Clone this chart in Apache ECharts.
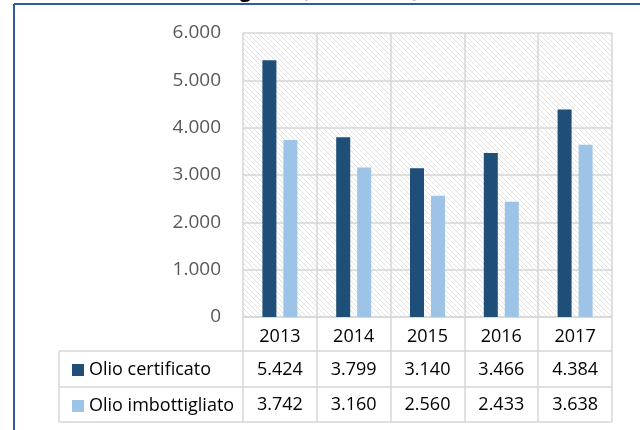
<!DOCTYPE html>
<html>
<head>
<meta charset="utf-8">
<script src="https://cdn.jsdelivr.net/npm/echarts@6/dist/echarts.min.js"></script>
<style>
html,body{margin:0;padding:0;background:#fff;}
#chart{width:640px;height:430px;}
</style>
</head>
<body>
<div id="chart"></div>
<script>
const titleText = 'Olio certificato e imbottigliato (tonnellate)';
const years = ['2013', '2014', '2015', '2016', '2017'];
const seriesNames = ['Olio certificato', 'Olio imbottigliato'];
const certificato = [5424, 3799, 3140, 3466, 4384];
const imbottigliato = [3742, 3160, 2560, 2433, 3638];
const yTicks = [0, 1000, 2000, 3000, 4000, 5000, 6000];

function fmt(v) { return String(v).replace(/\B(?=(\d{3})+(?!\d))/g, '.'); }

// diagonal hatch pattern for the plot background
const pc = document.createElement('canvas');
pc.width = 5; pc.height = 5;
const pctx = pc.getContext('2d');
pctx.fillStyle = '#ffffff';
pctx.fillRect(0, 0, 5, 5);
pctx.strokeStyle = '#e2e2e2';
pctx.lineWidth = 1;
pctx.beginPath();
pctx.moveTo(-1, -1); pctx.lineTo(6, 6);
pctx.moveTo(-6, -1); pctx.lineTo(1, 6);
pctx.moveTo(4, -1); pctx.lineTo(11, 6);
pctx.stroke();

const FONT = 'Open Sans';
const GRID = {left: 243, right: 28, top: 33, bottom: 113};
const lineCol = '#d6d6d6';

const chart = echarts.init(document.getElementById('chart'));
chart.setOption({
  animation: false,
  title: {
    text: titleText, right: 216, top: -24,
    textStyle: {fontFamily: FONT, fontSize: 20, fontWeight: 'bold', color: '#000'}
  },
  legend: {
    data: seriesNames,
    orient: 'vertical',
    left: 67, top: 355,
    itemWidth: 12, itemHeight: 12,
    itemGap: 16,
    icon: 'rect',
    textStyle: {fontFamily: FONT, fontSize: 18, color: '#000', lineHeight: 20}
  },
  grid: Object.assign({show: true, borderWidth: 0, backgroundColor: {image: pc, repeat: 'repeat'}}, GRID),
  xAxis: [
    {
      type: 'category', data: years, gridIndex: 0,
      axisLine: {show: true, lineStyle: {color: lineCol, width: 1.5}},
      axisTick: {show: true, length: 105, lineStyle: {color: lineCol, width: 1.5}},
      splitLine: {show: true, lineStyle: {color: lineCol, width: 1.5}},
      axisLabel: {margin: 11, fontFamily: FONT, fontSize: 18, color: '#000'}
    },
    {
      type: 'category', data: certificato.map(fmt), position: 'bottom', offset: 35,
      axisLine: {show: false}, axisTick: {show: false}, splitLine: {show: false},
      axisLabel: {margin: 9, fontFamily: FONT, fontSize: 18, color: '#000'}
    },
    {
      type: 'category', data: imbottigliato.map(fmt), position: 'bottom', offset: 70,
      axisLine: {show: false}, axisTick: {show: false}, splitLine: {show: false},
      axisLabel: {margin: 9, fontFamily: FONT, fontSize: 18, color: '#000'}
    }
  ],
  yAxis: {
    type: 'value', min: yTicks[0], max: yTicks[yTicks.length - 1], interval: 1000,
    axisLine: {show: false}, axisTick: {show: false},
    splitLine: {show: true, lineStyle: {color: lineCol, width: 1.5}},
    axisLabel: {margin: 22, fontFamily: FONT, fontSize: 19, color: '#595959', formatter: fmt}
  },
  series: [
    {name: seriesNames[0], type: 'bar', data: certificato, barWidth: 14, barGap: '50%',
     itemStyle: {color: '#1F4E79'}},
    {name: seriesNames[1], type: 'bar', data: imbottigliato, barWidth: 14,
     itemStyle: {color: '#9DC3E6'}}
  ],
  graphic: [
    {type: 'line', silent: true, shape: {x1: 59, y1: 351, x2: 612, y2: 351}, style: {stroke: lineCol, lineWidth: 1.5}},
    {type: 'line', silent: true, shape: {x1: 59, y1: 387, x2: 612, y2: 387}, style: {stroke: lineCol, lineWidth: 1.5}},
    {type: 'line', silent: true, shape: {x1: 59, y1: 422, x2: 612, y2: 422}, style: {stroke: lineCol, lineWidth: 1.5}},
    {type: 'line', silent: true, shape: {x1: 59, y1: 351, x2: 59, y2: 422}, style: {stroke: lineCol, lineWidth: 1.5}},
    {type: 'line', silent: true, shape: {x1: 14, y1: 4, x2: 640, y2: 4}, style: {stroke: '#2F5C94', lineWidth: 2}},
    {type: 'line', silent: true, shape: {x1: 14, y1: 4, x2: 14, y2: 430}, style: {stroke: '#2F5C94', lineWidth: 2}}
  ]
});
</script>
</body>
</html>
